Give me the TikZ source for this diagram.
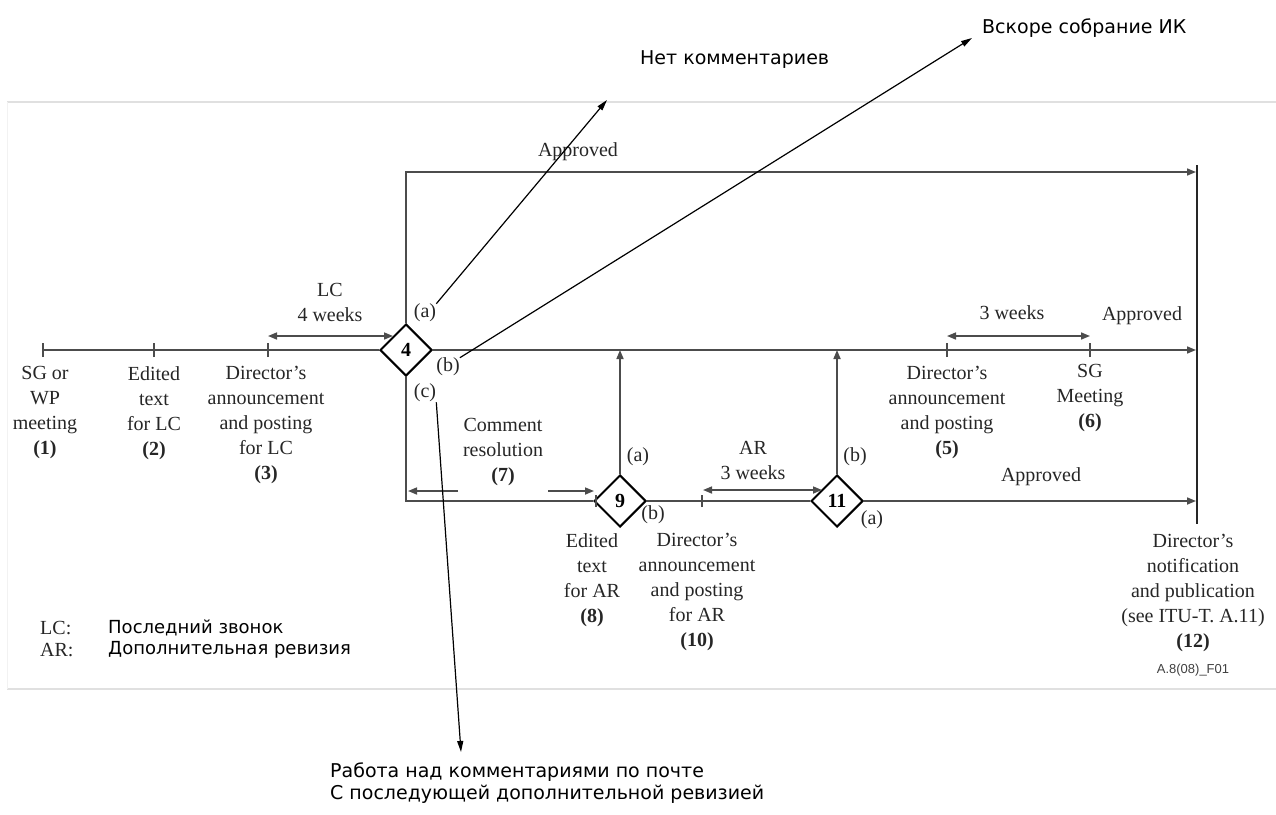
\documentclass[tikz,border=0pt]{standalone}
\usepackage{fontspec}
\setmainfont{Liberation Serif}
\newfontfamily\rusf{DejaVu Sans}
\newfontfamily\arialf{Liberation Sans}
\usetikzlibrary{shapes.geometric,arrows.meta}
\begin{document}
\begin{tikzpicture}[x=1pt,y=-1pt,
  lbl/.style={font=\fontsize{20}{25}\selectfont, text=black!85, inner sep=0pt, align=center},
  ln/.style={line width=1.6pt, draw=black!70},
  arr/.style={ln, -{Triangle[length=9pt,width=7pt]}},
  darr/.style={ln, {Triangle[length=9pt,width=7pt]}-{Triangle[length=9pt,width=7pt]}},
  tickln/.style={line width=1.6pt, draw=black!70},
  dia/.style={diamond, draw=black, line width=2pt, minimum width=52pt, minimum height=52pt, inner sep=0pt, font=\fontsize{20}{24}\selectfont\bfseries},
  note/.style={font=\rusf\fontsize{19}{22}\selectfont, inner sep=0pt, text=black},
  call/.style={line width=1.2pt, draw=black, -{Triangle[length=11pt,width=6pt]}},
  frameln/.style={draw=black!12, line width=1.2pt}
]
\useasboundingbox (0,0) rectangle (1276,814);
% frame
\draw[frameln] (7,102) -- (1276,102);
\draw[frameln] (7,689) -- (1276,689);
\draw[draw=black!5, line width=1pt] (7,102) -- (7,689);

% diamonds
\node[dia] (d4) at (406,350) {4};
\node[dia] (d9) at (620,501) {9};
\node[dia] (d11) at (837,501) {11};

% coordinates
\coordinate (s1) at (43,350);
\coordinate (t2) at (154,350);
\coordinate (t3) at (268,350);
\coordinate (t5) at (947,350);
\coordinate (t6) at (1090,350);
\coordinate (t10) at (702,501);
\coordinate (t9) at (596,501);
\coordinate (barT) at (1197,165);
\coordinate (barB) at (1197,524);
\coordinate (e0) at (1196,172);
\coordinate (e1) at (1196,350);
\coordinate (e2) at (1196,501);
\coordinate (c4top) at (406,172);

% vertical bar
\draw[line width=2.6pt, black!85] (barT) -- (barB);

% main line
\draw[ln] (s1) -- (d4.west);
\draw[arr] (d4.east) -- (e1);
% top approved path
\draw[arr] (d4.north) -- (c4top) -- (e0);
% lower path
\draw[ln] (d4.south) |- (d9.west);
\draw[ln] (d9.east) -- (d11.west);
\draw[arr] (d11.east) -- (e2);
\draw[arr] (d9.north) -- (d9.north |- d4);
\draw[arr] (d11.north) -- (d11.north |- d4);

% ticks
\foreach \p in {s1,t2,t3,t5,t6}{\draw[tickln] ([yshift=-7pt]\p) -- ([yshift=7pt]\p);}
\foreach \p in {t10,t9}{\draw[tickln] ([yshift=-6pt]\p) -- ([yshift=6pt]\p);}

% double arrows
\coordinate (lcA) at (268,336); \coordinate (lcB) at (393,336);
\draw[darr] (lcA) -- (lcB);
\coordinate (wA) at (947,336); \coordinate (wB) at (1090,336);
\draw[darr] (wA) -- (wB);
\coordinate (arA) at (703,490); \coordinate (arB) at (822,490);
\draw[darr] (arA) -- (arB);
\coordinate (crL1) at (458,491); \coordinate (crL2) at (408,491);
\coordinate (crR1) at (548,491); \coordinate (crR2) at (594,491);
\draw[arr] (crL1) -- (crL2);
\draw[arr] (crR1) -- (crR2);

% labels
\node[lbl, anchor=north] (n1) at (45,366) {SG or\\WP\\meeting\\\textbf{(1)}};
\node[lbl, anchor=north] (n2) at (154,366) {Edited\\text\\for LC\\\textbf{(2)}};
\node[lbl, anchor=north] (n3) at (266,366) {Director’s\\announcement\\and posting\\for LC\\\textbf{(3)}};
\node[lbl, anchor=north] (nlc) at (330,283) {LC\\4 weeks};
\node[lbl, anchor=north] (n5) at (947,366) {Director’s\\announcement\\and posting\\\textbf{(5)}};
\node[lbl, anchor=north] (n6) at (1090,364) {SG\\Meeting\\\textbf{(6)}};
\node[lbl] (n3w) at (1012,313) {3 weeks};
\node[lbl] (ap1) at (1142,316) {Approved};
\node[lbl] (ap0) at (578,152) {Approved};
\node[lbl] (ap2) at (1041,477) {Approved};
\node[lbl, anchor=north] (n7) at (503,418) {Comment\\resolution\\\textbf{(7)}};
\node[lbl, anchor=north] (nar) at (753,441) {AR\\3 weeks};
\node[lbl, anchor=north] (n8) at (592,533) {Edited\\text\\for AR\\\textbf{(8)}};
\node[lbl, anchor=north] (n10) at (697,533) {Director’s\\announcement\\and posting\\for AR\\\textbf{(10)}};
\node[lbl, anchor=north] (n12) at (1193,534) {Director’s\\notification\\and publication\\(see ITU-T. A.11)\\\textbf{(12)}};

\node[lbl] (la) at (425,313) {(a)};
\node[lbl] (lb) at (448,367) {(b)};
\node[lbl] (lc) at (425,393) {(c)};
\node[lbl] (l9a) at (638,457) {(a)};
\node[lbl] (l9b) at (653,515) {(b)};
\node[lbl] (l11b) at (855,457) {(b)};
\node[lbl] (l11a) at (872,520) {(a)};

% legend
\node[lbl, anchor=west] (lgLC) at (40,628) {LC:};
\node[lbl, anchor=west] (lgAR) at (40,650) {AR:};
\node[note, anchor=west, font=\rusf\fontsize{18}{22}\selectfont] (lgLCt) at (108,628) {Последний звонок};
\node[note, anchor=west, font=\rusf\fontsize{18}{22}\selectfont] (lgARt) at (108,650) {Дополнительная ревизия};

\node[font=\arialf\fontsize{13}{15}\selectfont, text=black!75, inner sep=0pt] (fig) at (1193,670) {A.8(08)\_F01};

% callouts
\node[note, anchor=west] (nk) at (640,60) {Нет комментариев};
\node[note, anchor=west] (vs) at (982,28) {Вскоре собрание ИК};
\node[note, anchor=north west, align=left] (rb) at (330,763) {Работа над комментариями по почте\\С последующей дополнительной ревизией};
\coordinate (tipA) at (607,100);
\coordinate (tipB) at (972,38);
\coordinate (tipC) at (461,752);
\draw[call] (la.north east) -- (tipA);
\draw[call] (lb.north east) -- (tipB);
\draw[call] (lc.south east) -- (tipC);
\end{tikzpicture}
\end{document}
